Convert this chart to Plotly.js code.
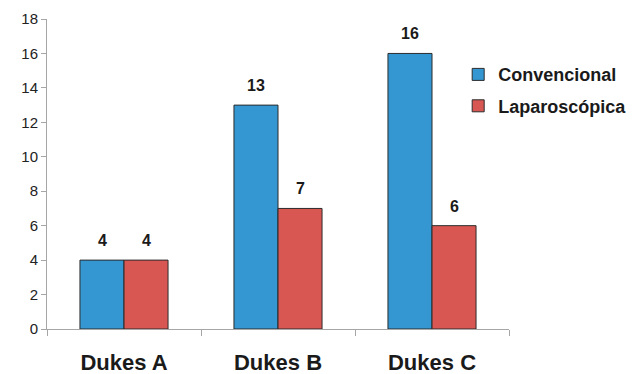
<!DOCTYPE html>
<html>
<head>
<meta charset="utf-8">
<script src="https://cdn.plot.ly/plotly-3.0.1.min.js"></script>
<style>
  html, body { margin: 0; padding: 0; background: #fff; }
  #chart { width: 644px; height: 374px; }
</style>
</head>
<body>
<div id="chart"></div>
<script>
// Dukes stage counts by surgical approach
const categories = ['Dukes A', 'Dukes B', 'Dukes C'];
const seriesNames = ['Convencional', 'Laparoscópica'];
const convencional = [4, 13, 16];
const laparoscopica = [4, 7, 6];
const yTicks = [0, 2, 4, 6, 8, 10, 12, 14, 16, 18];

const colors = ['#3597d1', '#d95753'];
const seriesValues = [convencional, laparoscopica];
const font = 'Liberation Sans, Arial, sans-serif';

const traces = seriesValues.map((vals, i) => ({
  type: 'bar',
  name: seriesNames[i],
  x: categories,
  y: vals,
  legendgroup: 'g' + i,
  marker: { color: colors[i], line: { color: '#2b2b2b', width: 1 } },
  hoverinfo: 'skip'
}));

// Value labels above each bar, offset to the bar within its group
const barHalf = 22;
const annotations = [];
seriesValues.forEach((vals, i) => {
  vals.forEach((v, j) => {
    annotations.push({
      x: categories[j], y: v, xref: 'x', yref: 'y',
      text: String(v), showarrow: false,
      xshift: (i === 0 ? -barHalf : barHalf),
      yanchor: 'bottom', yshift: 9,
      font: { family: font, size: 16, color: '#1a1a1a', weight: 'bold' }
    });
  });
});

const layout = {
  width: 644, height: 374,
  margin: { l: 47, r: 135, t: 19, b: 45 },
  paper_bgcolor: '#ffffff', plot_bgcolor: '#ffffff',
  barmode: 'group', bargap: 0.428, bargroupgap: 0,
  showlegend: true,
  legend: {
    x: 0.89, y: 0.88, xanchor: 'left', yanchor: 'top',
    traceorder: 'grouped', tracegroupgap: 5,
    font: { family: font, size: 18, color: '#1a1a1a', weight: 'bold' },
    bgcolor: 'rgba(0,0,0,0)'
  },
  xaxis: {
    type: 'category',
    showline: true, linecolor: '#a6a6a6', linewidth: 1,
    ticks: 'outside', tickson: 'boundaries', ticklen: 6, tickcolor: '#a6a6a6',
    ticklabelstandoff: 14,
    showgrid: false, zeroline: false,
    tickfont: { family: font, size: 22, color: '#1a1a1a', weight: 'bold' }
  },
  yaxis: {
    range: [0, 18], tickvals: yTicks, ticktext: yTicks.map(String),
    showline: true, linecolor: '#a6a6a6', linewidth: 1,
    ticks: 'outside', ticklen: 5, tickcolor: '#a6a6a6',
    showgrid: false, zeroline: false,
    tickfont: { family: font, size: 15, color: '#222222' }
  },
  annotations: annotations
};

Plotly.newPlot('chart', traces, layout, { displayModeBar: false, staticPlot: true });
</script>
</body>
</html>
